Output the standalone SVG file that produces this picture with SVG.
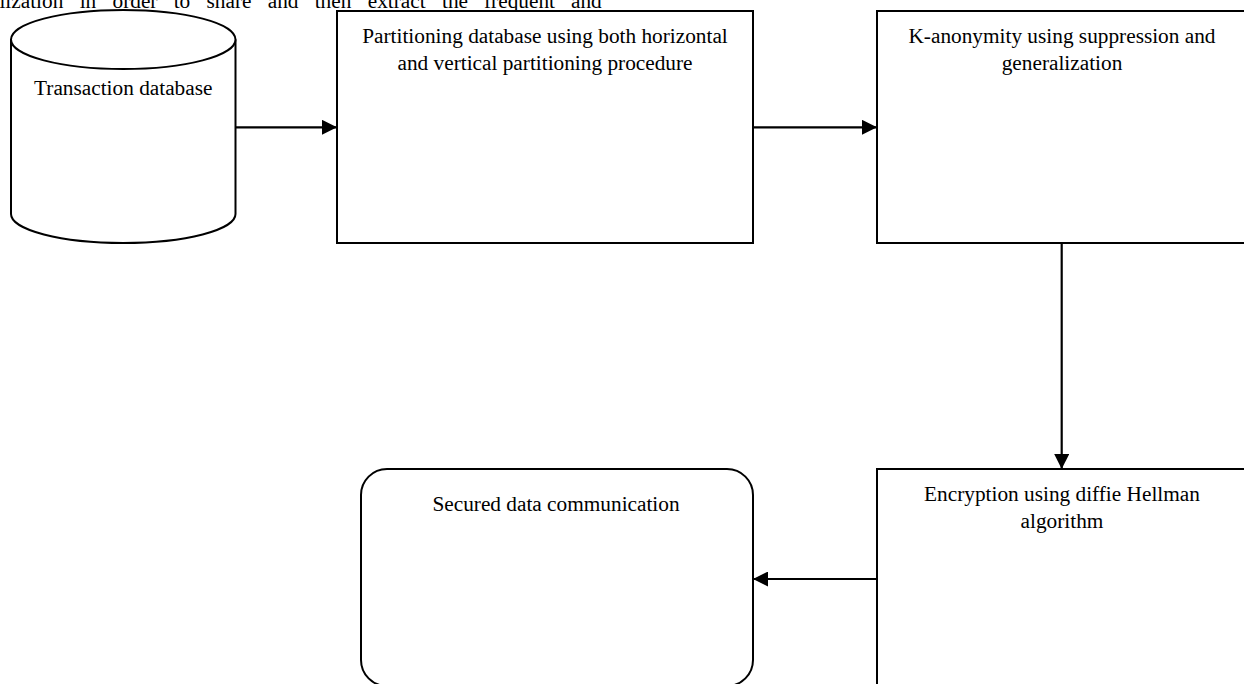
<svg xmlns="http://www.w3.org/2000/svg" width="1244" height="684" viewBox="0 0 1244 684">
  <defs>
    <style>
      .shape { fill: #ffffff; stroke: #000000; stroke-width: 2; }
      .conn { fill: none; stroke: #000000; stroke-width: 2.2; }
      .lbl { font-family: "Liberation Serif", "Times New Roman", serif; font-size: 21.3px; fill: #000000; text-anchor: middle; }
      .para { font-family: "Liberation Serif", "Times New Roman", serif; font-size: 21.3px; fill: #000000; }
    </style>
    <marker id="arrow" markerUnits="userSpaceOnUse" markerWidth="15" markerHeight="15" refX="15" refY="7.5" orient="auto">
      <path d="M0,0 L15,7.5 L0,15 Z" fill="#000000"/>
    </marker>
  </defs>
  <rect x="0" y="0" width="1244" height="684" fill="#ffffff"/>

  <text class="para" y="8"><tspan x="-10">alization</tspan><tspan x="79.7">in</tspan><tspan x="112.5">order</tspan><tspan x="173.7">to</tspan><tspan x="206.5">share</tspan><tspan x="267.7">and</tspan><tspan x="314.7">then</tspan><tspan x="367.7">extract</tspan><tspan x="442">the</tspan><tspan x="484">frequent</tspan><tspan x="571">and</tspan></text>

  <g id="connectors">
    <line class="conn" x1="235.5" y1="127.3" x2="337" y2="127.3" marker-end="url(#arrow)"/>
    <line class="conn" x1="753" y1="127.3" x2="877" y2="127.3" marker-end="url(#arrow)"/>
    <line class="conn" x1="1061.7" y1="243" x2="1061.7" y2="469" marker-end="url(#arrow)"/>
    <line class="conn" x1="877" y1="579" x2="753" y2="579" marker-end="url(#arrow)"/>
  </g>

  <g id="transaction-database">
    <path class="shape" d="M11,39.5 L11,214 A112.25,29 0 0 0 235.5,214 L235.5,39.5"/>
    <ellipse class="shape" cx="123.25" cy="39.5" rx="112.25" ry="29.5"/>
    <text class="lbl" x="123.25" y="95">Transaction database</text>
  </g>

  <g id="partitioning">
    <rect class="shape" x="337" y="11" width="416" height="232"/>
    <text class="lbl" x="545" y="42.5">Partitioning database using both horizontal</text>
    <text class="lbl" x="545" y="70">and vertical partitioning procedure</text>
  </g>

  <g id="k-anonymity">
    <rect class="shape" x="877" y="11" width="370" height="232"/>
    <text class="lbl" x="1062" y="42.5">K-anonymity using suppression and</text>
    <text class="lbl" x="1062" y="70">generalization</text>
  </g>

  <g id="encryption">
    <rect class="shape" x="877" y="469" width="370" height="232"/>
    <text class="lbl" x="1062" y="500.5">Encryption using diffie Hellman</text>
    <text class="lbl" x="1062" y="528">algorithm</text>
  </g>

  <g id="secured-communication">
    <rect class="shape" x="361" y="469" width="392" height="217" rx="26" ry="26"/>
    <text class="lbl" x="556" y="510.5">Secured data communication</text>
  </g>
</svg>
